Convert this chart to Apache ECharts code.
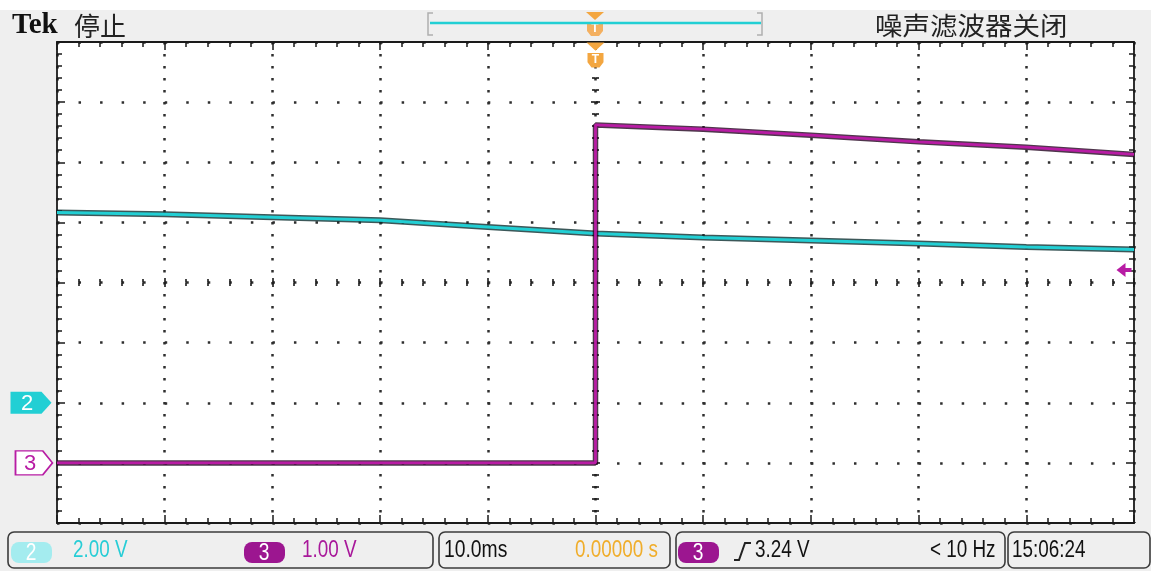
<!DOCTYPE html>
<html><head><meta charset="utf-8">
<script src="https://cdn.jsdelivr.net/npm/echarts@6/dist/echarts.min.js"></script>
<style>html,body{margin:0;padding:0;background:#fff}#c{width:1151px;height:571px}</style>
</head><body><div id="c"></div><script>
// ---- data ----
const timeMs   = [-50, -40, -30, -20, -10, 0, 10, 20, 30, 40, 50];           // ms
const ch2Volts = [6.33, 6.27, 6.17, 6.07, 5.85, 5.63, 5.50, 5.40, 5.30, 5.18, 5.10];
const ch3Time  = [-50, -25, 0, 0, 10, 20, 30, 40, 50];
const ch3Volts = [0.0, 0.0, 0.0, 5.62, 5.55, 5.45, 5.34, 5.25, 5.13];
const triggerLevelV = 3.24;
const triggerTimeMs = 0;
const ch2Range = [-4, 12];   // 2.00 V/div, ground 2 div below centre
const ch3Range = [-1, 7];    // 1.00 V/div, ground 3 div below centre
const statusTexts = {ch2: '2.00 V', ch3: '1.00 V', timebase: '10.0ms', delay: '0.00000 s',
  trigLevel: '3.24 V', freq: '< 10 Hz', clock: '15:06:24'};

const CYAN = '#22cfd4', MAG = '#b81ca4', ORANGE = '#f3a640', INK = '#1a1a1a', DOT = '#2e2e2e';
const pair = (xs, ys) => xs.map((x, i) => [x, ys[i]]);

const chart = echarts.init(document.getElementById('c'), null, {renderer: 'canvas'});

function xBorder(pos, split) {
  return {type: 'value', min: -50, max: 50, interval: 10, position: pos,
    axisLine: {show: true, onZero: false, lineStyle: {color: INK, width: 1.8}},
    axisTick: {show: true, inside: true, length: 8, lineStyle: {color: INK, width: 1.5}},
    minorTick: {show: true, splitNumber: 5, length: 5, lineStyle: {color: INK, width: 1.5}},
    axisLabel: {show: false},
    splitLine: {show: split, lineStyle: {color: DOT, width: 2.5, type: [2.5, 9.5]}}};
}
function yBorder(pos, split) {
  return {type: 'value', min: -4, max: 4, interval: 1, position: pos,
    axisLine: {show: true, onZero: false, lineStyle: {color: INK, width: 1.8}},
    axisTick: {show: true, inside: true, length: 8, lineStyle: {color: INK, width: 1.5}},
    minorTick: {show: true, splitNumber: 5, length: 5, lineStyle: {color: INK, width: 1.5}},
    axisLabel: {show: false},
    splitLine: {show: split, lineStyle: {color: DOT, width: 2.5, type: [2.5, 19.04]}}};
}
function xCenter(pos) {
  return {type: 'value', min: -50, max: 50, interval: 10, position: pos,
    axisLine: {show: true, onZero: true, onZeroAxisIndex: 0, lineStyle: {color: 'rgba(0,0,0,0)'}},
    axisTick: {show: true, inside: true, length: 4.5, lineStyle: {color: INK, width: 1.6}},
    minorTick: {show: true, splitNumber: 5, length: 3.5, lineStyle: {color: INK, width: 1.6}},
    axisLabel: {show: false}, splitLine: {show: false}};
}
function yCenter(pos) {
  return {type: 'value', min: -4, max: 4, interval: 1, position: pos,
    axisLine: {show: true, onZero: true, onZeroAxisIndex: 0, lineStyle: {color: 'rgba(0,0,0,0)'}},
    axisTick: {show: true, inside: true, length: 4.5, lineStyle: {color: INK, width: 1.6}},
    minorTick: {show: true, splitNumber: 5, length: 3.5, lineStyle: {color: INK, width: 1.6}},
    axisLabel: {show: false}, splitLine: {show: false}};
}

const SANS = '"Liberation Sans", Arial, sans-serif';
function txt(x, y, text, size, color, sx, extra) {
  return {type: 'text', x: x, y: y, scaleX: sx || 1, z: 20,
    style: {text: text, fill: color, font: (extra && extra.weight ? extra.weight + ' ' : '') + size + 'px ' + ((extra && extra.family) || SANS),
      verticalAlign: 'middle', textVerticalAlign: 'middle', align: (extra && extra.align) || 'left', textAlign: (extra && extra.align) || 'left'}};
}
function box(x, w) {
  return {type: 'rect', z: 10, shape: {x: x, y: 532, width: w, height: 36, r: 6},
    style: {fill: '#efefef', stroke: '#3c3c3c', lineWidth: 1.6}};
}
function pill(x, fill) {
  return {type: 'rect', z: 15, shape: {x: x, y: 542, width: 41, height: 21, r: 8}, style: {fill: fill}};
}
function trigMarker(cx, top) {
  return {type: 'group', z: 30, children: [
    {type: 'polygon', shape: {points: [[cx - 9, top], [cx + 9, top], [cx, top + 8]]}, style: {fill: ORANGE}},
    {type: 'polygon', shape: {points: [[cx - 8, top + 10], [cx + 8, top + 10], [cx + 8, top + 19], [cx + 4, top + 24], [cx - 4, top + 24], [cx - 8, top + 19]]}, style: {fill: '#f4b060'}},
    {type: 'text', x: cx, y: top + 17, style: {text: 'T', fill: '#fff', font: 'bold 12px ' + SANS, align: 'center', verticalAlign: 'middle', textAlign: 'center', textVerticalAlign: 'middle'}}
  ]};
}

const graphic = [
  {type: 'rect', z: -5, shape: {x: 0, y: 0, width: 1151, height: 10}, style: {fill: '#ffffff'}},
  txt(12, 26, 'Tek', 29, '#111', 1, {weight: 'bold', family: '"Liberation Serif", "DejaVu Serif", serif'}),
  txt(74, 26, '停止', 26, '#222', 1, {family: '"Noto Sans CJK SC", sans-serif'}),
  txt(875, 25, '噪声滤波器关闭', 25, '#222', 1.1, {family: '"Noto Sans CJK SC", sans-serif'}),
  // record-window bracket
  {type: 'polyline', z: 20, shape: {points: [[433, 13], [428, 13], [428, 35], [433, 35]]}, style: {stroke: '#b0b0b0', lineWidth: 1.5, fill: null}},
  {type: 'polyline', z: 20, shape: {points: [[757, 13], [762, 13], [762, 35], [757, 35]]}, style: {stroke: '#b0b0b0', lineWidth: 1.5, fill: null}},
  {type: 'line', z: 20, shape: {x1: 430, y1: 23, x2: 761, y2: 23}, style: {stroke: CYAN, lineWidth: 2.5}},
  trigMarker(595, 12),
  // status bar
  box(8, 425), box(439, 231), box(676, 329), box(1008, 142),
  pill(11, '#a4ecef'), txt(31, 553, '2', 24, '#ffffff', 0.8, {align: 'center'}),
  txt(73, 551, statusTexts.ch2, 23, '#27cdd6', 0.82),
  pill(244, '#9c1690'), txt(264, 553, '3', 24, '#ffffff', 0.8, {align: 'center'}),
  txt(302, 551, statusTexts.ch3, 23, '#a8189a', 0.82),
  txt(444, 551, statusTexts.timebase, 23, '#111', 0.84),
  txt(575, 551, statusTexts.delay, 23, '#f0ad2a', 0.82),
  pill(678, '#9c1690'), txt(698, 553, '3', 24, '#ffffff', 0.8, {align: 'center'}),
  {type: 'polyline', z: 20, shape: {points: [[734, 560], [739, 560], [745, 543], [751, 543]]}, style: {stroke: '#222', lineWidth: 2, fill: null}},
  txt(755, 551, statusTexts.trigLevel, 23, '#111', 0.82),
  txt(930, 551, statusTexts.freq, 23, '#111', 0.82),
  txt(1012, 551, statusTexts.clock, 23, '#111', 0.82)
];

const option = {
  animation: false,
  backgroundColor: '#efefef',
  grid: {left: 57, top: 42, width: 1077, height: 481, show: true, backgroundColor: '#ffffff', borderWidth: 0, containLabel: false},
  xAxis: [xBorder('bottom', true), xBorder('top', false), xCenter('bottom'), xCenter('top')],
  yAxis: [yBorder('left', true), yBorder('right', false), yCenter('left'), yCenter('right'),
    {type: 'value', show: false, min: ch2Range[0], max: ch2Range[1]},
    {type: 'value', show: false, min: ch3Range[0], max: ch3Range[1]}],
  series: [
    {type: 'line', xAxisIndex: 0, yAxisIndex: 4, data: pair(timeMs, ch2Volts), symbol: 'none', silent: true, z: 3,
      lineStyle: {color: '#0b2e30', width: 6, opacity: 0.8}},
    {type: 'line', xAxisIndex: 0, yAxisIndex: 4, data: pair(timeMs, ch2Volts), symbol: 'none', silent: true, z: 4,
      lineStyle: {color: CYAN, width: 3},
      markPoint: {silent: true, animation: false, data: [
        {coord: [-50, 0], symbol: 'path://M0,0 L31,0 L41,11 L31,22 L0,22 Z', symbolSize: [41, 22], symbolOffset: [-26, 0],
          itemStyle: {color: CYAN}, label: {show: true, position: 'inside', formatter: '2', color: '#fff', fontSize: 22, offset: [-4, 1], fontFamily: SANS}}
      ]}},
    {type: 'line', xAxisIndex: 0, yAxisIndex: 5, data: pair(ch3Time, ch3Volts), symbol: 'none', silent: true, z: 5,
      lineStyle: {color: '#240420', width: 5.5, opacity: 0.8}},
    {type: 'line', xAxisIndex: 0, yAxisIndex: 5, data: pair(ch3Time, ch3Volts), symbol: 'none', silent: true, z: 6,
      lineStyle: {color: MAG, width: 2.8},
      markPoint: {silent: true, animation: false, data: [
        {coord: [-50, 0], symbol: 'path://M0,0 L28,0 L38,12 L28,24 L0,24 Z', symbolSize: [37, 24], symbolOffset: [-23, 0],
          itemStyle: {color: '#ffffff', borderColor: MAG, borderWidth: 1.5},
          label: {show: true, position: 'inside', formatter: '3', color: MAG, fontSize: 22, offset: [-4, 1], fontFamily: SANS}},
        {coord: [50, triggerLevelV], symbol: 'path://M0,7 L9,0 L9,5 L15,5 L15,9 L9,9 L9,14 Z', symbolSize: [15, 14], symbolOffset: [-10, 2],
          itemStyle: {color: MAG}, label: {show: false}},
        {coord: [triggerTimeMs, ch3Range[1]], symbol: 'path://M0,0 L18,0 L9,8 Z M1,10 L17,10 L17,19 L13,24 L5,24 L1,19 Z', symbolSize: [18, 25], symbolOffset: [0, 13],
          itemStyle: {color: ORANGE}, label: {show: true, position: 'inside', formatter: 'T', color: '#fff', fontSize: 12, fontWeight: 'bold', offset: [0, 5], fontFamily: SANS}}
      ]}}
  ],
  graphic: graphic
};
chart.setOption(option);
</script></body></html>
